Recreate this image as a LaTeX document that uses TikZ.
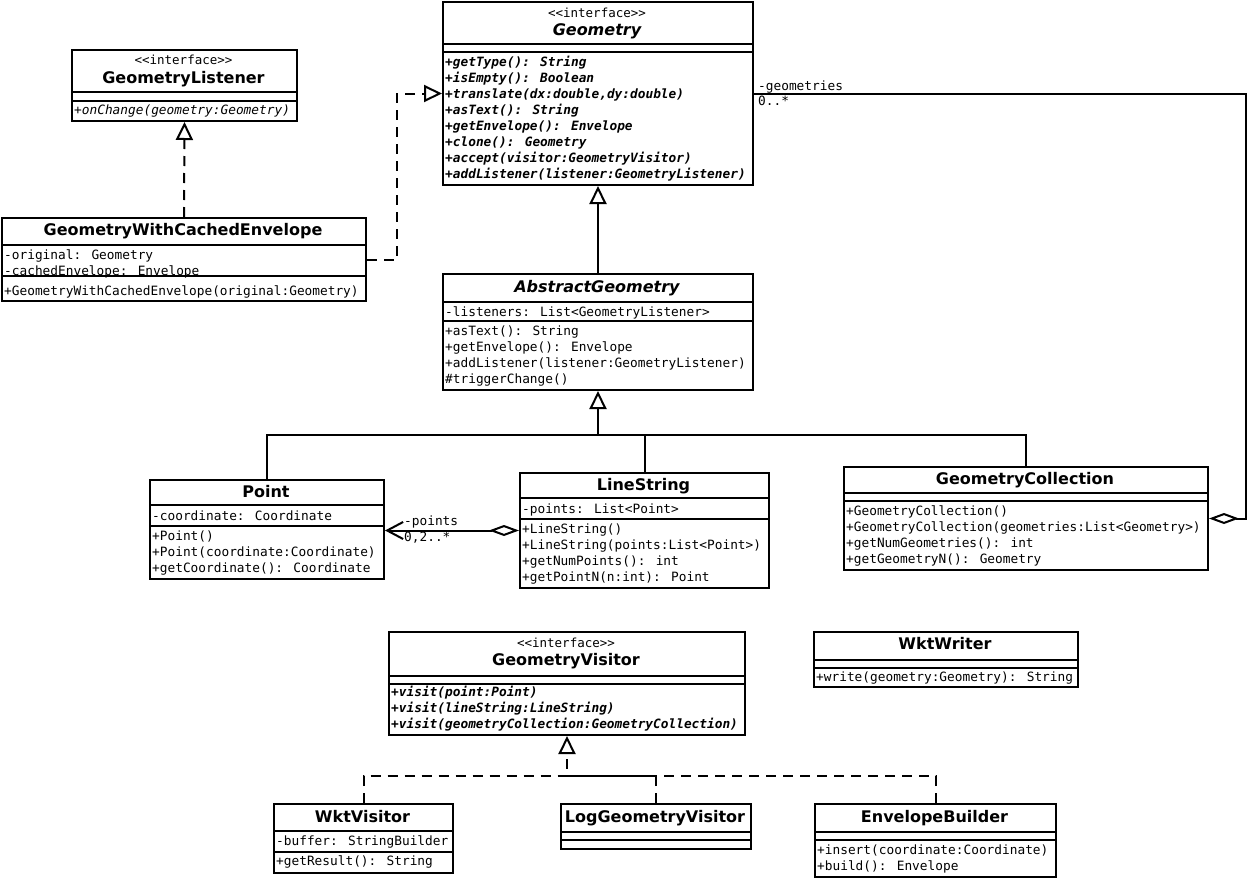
\documentclass[tikz,border=0pt]{standalone}
\usepackage{fontspec}
\setmainfont{DejaVu Sans}
\newfontfamily\monof{DejaVu Sans Mono}
\usetikzlibrary{arrows.meta}
\tikzset{
  cls/.style={draw, line width=2pt, inner sep=0pt, anchor=north west, fill=white},
  sepl/.style={line width=2pt},
  ttl/.style={font=\fontsize{16}{19}\selectfont\bfseries, inner sep=0pt, text height=11.5pt, text depth=0pt},
  ttli/.style={ttl, font=\fontsize{16}{19}\selectfont\bfseries\itshape},
  ster/.style={font=\monof\fontsize{12.5}{14}\selectfont, inner sep=0pt, text height=8pt, text depth=0pt},
  mem/.style={font=\monof\fontsize{12.8}{16}\selectfont, inner sep=0pt, anchor=west, text height=9pt, text depth=0pt},
  memi/.style={mem, font=\monof\fontsize{12.8}{16}\selectfont\itshape},
  membi/.style={mem, font=\monof\fontsize{12.8}{16}\selectfont\bfseries\itshape},
  conn/.style={line width=2pt},
  dsh/.style={dash pattern=on 10pt off 7pt},
  inherit/.style={conn, -{Triangle[open, length=18pt, width=17pt, line width=2pt]}},
  realize/.style={inherit, dsh},
  aggr/.style={conn, {Diamond[open, length=30pt, width=11pt, line width=2pt]}-},
  aggrnav/.style={conn, {Diamond[open, length=30pt, width=11pt, line width=2pt]}-{Straight Barb[length=16pt, width=17pt, line width=2pt]}},
  lbl/.style={font=\monof\fontsize{12.8}{16}\selectfont, inner sep=0pt, anchor=west, text height=9pt, text depth=0pt}
}
\newcommand{\umlbox}[6]{%
  \node[cls, minimum width={(#4)-(#2)}, minimum height={(#5)-(#3)}] (#1) at (#2,#3) {};
  \foreach \yy in {#6} \draw[sepl] (#2,\yy) -- (#4,\yy);
}
\begin{document}
\begin{tikzpicture}[x=1pt, y=-1pt]
\useasboundingbox (0,0) rectangle (1251,878);

% ---------- Geometry ----------
\umlbox{geom}{442}{1}{752}{184}{44,52}
\node[ster] (geom-s) at (597,13) {<<interface>>};
\node[ttli] (geom-t) at (597,30) {Geometry};
\node[membi] (geom-m1) at (445,62) {+getType(): String};
\node[membi] (geom-m2) at (445,78) {+isEmpty(): Boolean};
\node[membi] (geom-m3) at (445,94) {+translate(dx:double,dy:double)};
\node[membi] (geom-m4) at (445,110) {+asText(): String};
\node[membi] (geom-m5) at (445,126) {+getEnvelope(): Envelope};
\node[membi] (geom-m6) at (445,142) {+clone(): Geometry};
\node[membi] (geom-m7) at (445,158) {+accept(visitor:GeometryVisitor)};
\node[membi] (geom-m8) at (445,174) {+addListener(listener:GeometryListener)};

% ---------- GeometryListener ----------
\umlbox{gl}{71}{49}{296}{120}{92,101}
\node[ster] (gl-s) at (183.5,60) {<<interface>>};
\node[ttl] (gl-t) at (183.5,78) {GeometryListener};
\node[memi] (gl-m1) at (74,110) {+onChange(geometry:Geometry)};

% ---------- GeometryWithCachedEnvelope ----------
\umlbox{gwce}{1}{217}{365}{300}{245,276}
\node[ttl] (gwce-t) at (183,230) {GeometryWithCachedEnvelope};
\node[mem] (gwce-a1) at (4,255) {-original: Geometry};
\node[mem] (gwce-a2) at (4,271) {-cachedEnvelope: Envelope};
\node[mem] (gwce-m1) at (4,291) {+GeometryWithCachedEnvelope(original:Geometry)};

% ---------- AbstractGeometry ----------
\umlbox{ag}{442}{273}{752}{389}{302,321}
\node[ttli] (ag-t) at (597,287) {AbstractGeometry};
\node[mem] (ag-a1) at (445,312) {-listeners: List<GeometryListener>};
\node[mem] (ag-m1) at (445,331) {+asText(): String};
\node[mem] (ag-m2) at (445,347) {+getEnvelope(): Envelope};
\node[mem] (ag-m3) at (445,363) {+addListener(listener:GeometryListener)};
\node[mem] (ag-m4) at (445,379) {\#triggerChange()};

% ---------- Point ----------
\umlbox{pt}{149}{479}{383}{578}{505,526}
\node[ttl] (pt-t) at (266,492) {Point};
\node[mem] (pt-a1) at (152,516) {-coordinate: Coordinate};
\node[mem] (pt-m1) at (152,536) {+Point()};
\node[mem] (pt-m2) at (152,552) {+Point(coordinate:Coordinate)};
\node[mem] (pt-m3) at (152,568) {+getCoordinate(): Coordinate};

% ---------- LineString ----------
\umlbox{ls}{519}{472}{768}{587}{498,519}
\node[ttl] (ls-t) at (643.5,485) {LineString};
\node[mem] (ls-a1) at (522,509) {-points: List<Point>};
\node[mem] (ls-m1) at (522,529) {+LineString()};
\node[mem] (ls-m2) at (522,545) {+LineString(points:List<Point>)};
\node[mem] (ls-m3) at (522,561) {+getNumPoints(): int};
\node[mem] (ls-m4) at (522,577) {+getPointN(n:int): Point};

% ---------- GeometryCollection ----------
\umlbox{gc}{843}{466}{1207}{569}{493,501}
\node[ttl] (gc-t) at (1025,479) {GeometryCollection};
\node[mem] (gc-m1) at (846,511) {+GeometryCollection()};
\node[mem] (gc-m2) at (846,527) {+GeometryCollection(geometries:List<Geometry>)};
\node[mem] (gc-m3) at (846,543) {+getNumGeometries(): int};
\node[mem] (gc-m4) at (846,559) {+getGeometryN(): Geometry};

% ---------- GeometryVisitor ----------
\umlbox{gv}{388}{631}{744}{734}{676,684}
\node[ster] (gv-s) at (566,643) {<<interface>>};
\node[ttl] (gv-t) at (566,660) {GeometryVisitor};
\node[membi] (gv-m1) at (391,692) {+visit(point:Point)};
\node[membi] (gv-m2) at (391,708) {+visit(lineString:LineString)};
\node[membi] (gv-m3) at (391,724) {+visit(geometryCollection:GeometryCollection)};

% ---------- WktWriter ----------
\umlbox{ww}{813}{631}{1077}{686}{660,668}
\node[ttl] (ww-t) at (945,644) {WktWriter};
\node[mem] (ww-m1) at (816,677) {+write(geometry:Geometry): String};

% ---------- WktVisitor ----------
\umlbox{wv}{273}{803}{452}{872}{831,852}
\node[ttl] (wv-t) at (362.5,817) {WktVisitor};
\node[mem] (wv-a1) at (276,841) {-buffer: StringBuilder};
\node[mem] (wv-m1) at (276,861) {+getResult(): String};

% ---------- LogGeometryVisitor ----------
\umlbox{lgv}{560}{803}{750}{848}{832,840}
\node[ttl] (lgv-t) at (655,817) {LogGeometryVisitor};

% ---------- EnvelopeBuilder ----------
\umlbox{eb}{814}{803}{1055}{876}{832,840}
\node[ttl] (eb-t) at (934.5,817) {EnvelopeBuilder};
\node[mem] (eb-m1) at (817,850) {+insert(coordinate:Coordinate)};
\node[mem] (eb-m2) at (817,866) {+build(): Envelope};

% ---------- connectors ----------
\coordinate (cleft) at (397,0);
\coordinate (cright) at (1246,0);
\coordinate (tree) at (0,435);
\coordinate (vtree) at (0,776);

\draw[realize] (gwce.north) -- (gl.south);
\draw[realize] (gwce.east) -- (gwce.east -| cleft) -- (cleft |- geom.west) -- (geom.west);

\draw[inherit] (ag.north) -- (geom.south);

\draw[inherit] (pt.north) -- (pt.north |- tree) -- (ag.south |- tree) -- (ag.south);
\draw[conn] (ls.north) -- (ls.north |- tree) -- (ag.south |- tree);
\draw[conn] (gc.north) -- (gc.north |- tree) -- (ag.south |- tree);

\draw[aggrnav] (ls.west) -- (ls.west -| pt.east);
\node[lbl] (lbl-p1) at (404,521) {-points};
\node[lbl] (lbl-p2) at (404,537) {0,2..*};

\draw[aggr] (gc.east) -- (gc.east -| cright) -- (cright |- geom.east) -- (geom.east);
\node[lbl] (lbl-g1) at (758,86) {-geometries};
\node[lbl] (lbl-g2) at (758,101) {0..*};

\draw[realize] (wv.north) -- (wv.north |- vtree) -- (gv.south |- vtree) -- (gv.south);
\draw[conn, dsh] (lgv.north) -- (lgv.north |- vtree) -- (gv.south |- vtree);
\draw[conn, dsh] (eb.north) -- (eb.north |- vtree) -- (gv.south |- vtree);
\end{tikzpicture}
\end{document}
